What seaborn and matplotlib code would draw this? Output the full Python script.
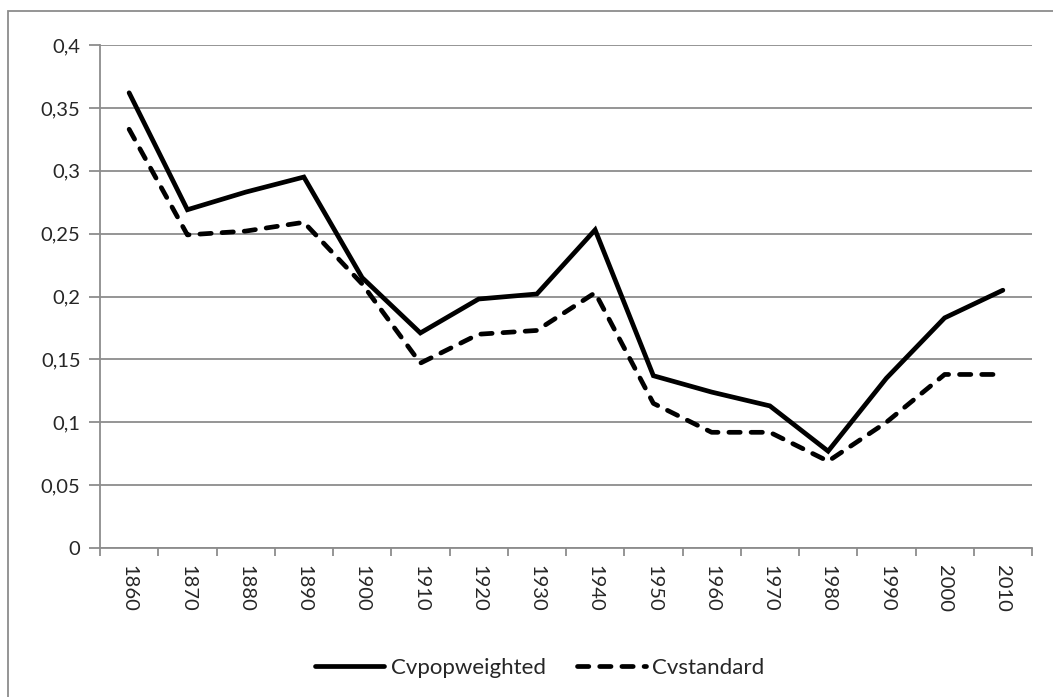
import matplotlib
matplotlib.use("Agg")
import matplotlib.pyplot as plt
import matplotlib.patches as mpatches
import pandas as pd
import seaborn as sns

# ----------------------------
# Data
# ----------------------------
years = [1860, 1870, 1880, 1890, 1900, 1910, 1920, 1930,
         1940, 1950, 1960, 1970, 1980, 1990, 2000, 2010]
cv_popweighted = [0.362, 0.269, 0.283, 0.295, 0.215, 0.171, 0.198, 0.202,
                  0.253, 0.137, 0.124, 0.113, 0.077, 0.135, 0.183, 0.205]
cv_standard = [0.333, 0.249, 0.252, 0.259, 0.210, 0.147, 0.170, 0.173,
               0.203, 0.115, 0.092, 0.092, 0.069, 0.100, 0.138, 0.138]
ytick_values = [0, 0.05, 0.1, 0.15, 0.2, 0.25, 0.3, 0.35, 0.4]
ytick_labels = ["0", "0,05", "0,1", "0,15", "0,2", "0,25", "0,3", "0,35", "0,4"]

sns.set_style("white")
plt.rcParams["font.family"] = ["Lato", "DejaVu Sans"]

W, H = 1053, 697
fig = plt.figure(figsize=(W / 100, H / 100), dpi=100)
ax = fig.add_axes([100 / W, 1 - 548 / H, 932 / W, 503 / H])

# outer chart border (Excel style), partially cut off at right/bottom
fig.patches.append(mpatches.Rectangle((8 / W, -0.1), 1.2, 1 - 11 / H + 0.1,
                                      transform=fig.transFigure, fill=False,
                                      edgecolor="#8c8c8c", linewidth=1.3))

df = pd.DataFrame({"year": years, "pop": cv_popweighted, "std": cv_standard})

sns.lineplot(data=df, x="year", y="pop", ax=ax, color="black", linewidth=3.4,
             solid_joinstyle="miter", label="Cvpopweighted")
sns.lineplot(data=df, x="year", y="std", ax=ax, color="black", linewidth=3.4,
             linestyle=(0, (2.4, 2.3)), dash_capstyle="round",
             label="Cvstandard")

ax.set_xlim(1855, 2015)
ax.set_ylim(0, 0.4)
ax.set_xlabel("")
ax.set_ylabel("")

# y axis
ax.set_yticks(ytick_values)
ax.set_yticklabels(ytick_labels)
ax.yaxis.grid(True, color="#8c8c8c", linewidth=1.3)
ax.tick_params(axis="y", length=8, width=1.3, color="#8c8c8c",
               labelsize=14.5, pad=6, left=True)

# x axis: labels at the centres, ticks at the category boundaries
ax.set_xticks(years)
ax.set_xticklabels([str(y) for y in years], rotation=270)
ax.set_xticks([1855 + 10 * i for i in range(17)], minor=True)
ax.tick_params(axis="x", which="major", length=0, labelsize=14.5, pad=12)
ax.tick_params(axis="x", which="minor", length=6, width=1.3,
               color="#8c8c8c", bottom=True)

for side in ["top", "right"]:
    ax.spines[side].set_visible(False)
for side in ["left", "bottom"]:
    ax.spines[side].set_color("#8c8c8c")
    ax.spines[side].set_linewidth(1.3)

ax.get_legend().remove()
handles, labels = ax.get_legend_handles_labels()
fig.legend(handles, labels, loc="center", bbox_to_anchor=(540 / W, 1 - 668 / H),
           ncol=2, frameon=False, fontsize=16, handlelength=3.1,
           handletextpad=0.3, columnspacing=1.4)

fig.savefig("out.png", dpi=100)
